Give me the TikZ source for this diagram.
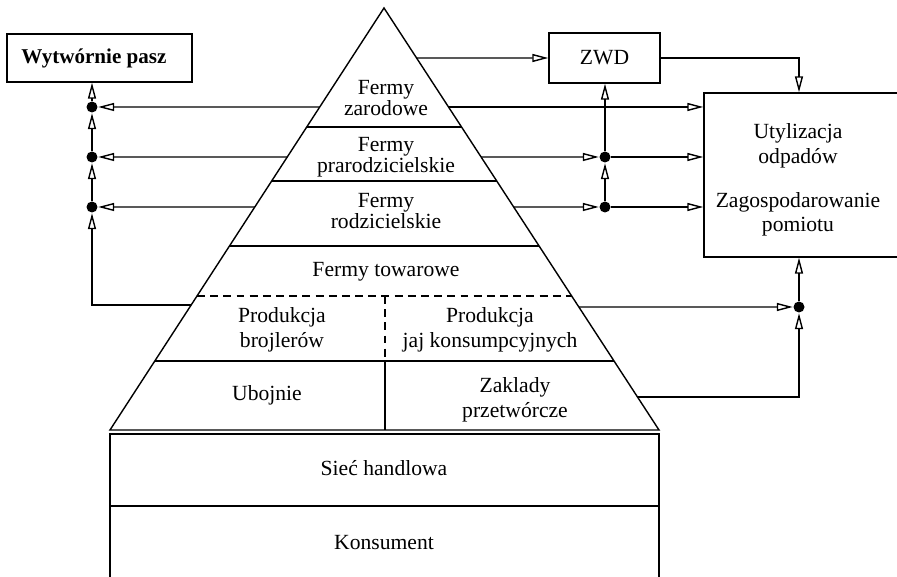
\documentclass[tikz,border=0pt]{standalone}
\usepackage{fontspec}
\setmainfont{Liberation Serif}
\usetikzlibrary{arrows.meta,calc}

\begin{document}
\begin{tikzpicture}[x=0.02cm,y=-0.02cm,line width=0.8pt,
  font=\fontsize{12.3}{14}\selectfont,
  box/.style={draw,rectangle,inner sep=0pt},
  tight/.style={align=center,inner sep=0pt,font=\fontsize{12.3}{11}\selectfont},
  loose/.style={align=center,inner sep=0pt},
  dot/.style={circle,fill,inner sep=0pt,minimum size=0.22cm},
  arr/.style={-{Triangle[open,length=0.32cm,width=0.16cm]}}]
\useasboundingbox (0,0) rectangle (897,577);
\clip (0,0) rectangle (897,577);

\coordinate (top) at (384,8);
\coordinate (bl) at (110,430);
\coordinate (br) at (659,430);
\draw (bl) -- (top) -- (br) -- cycle;
\foreach \y in {127,181,246,361}
  \draw ($(top)!{(\y-8)/422}!(bl)$) -- ($(top)!{(\y-8)/422}!(br)$);
\draw[dash pattern=on 4.5pt off 3pt] ($(top)!{288/422}!(bl)$) -- ($(top)!{288/422}!(br)$);
\draw[dash pattern=on 4.5pt off 3pt] (385,296) -- (385,361);
\draw (385,361) -- (385,430);
\draw (110,590) -- (110,434) -- (659,434) -- (659,590);
\draw (110,506) -- (659,506);

\foreach \n/\y in {1/107,2/157,3/207,b/305}
  \coordinate (pl\n) at ($(top)!{(\y-8)/422}!(bl)$);
\foreach \n/\y in {z/58,1/107,2/157,3/207,4/307,5/397}
  \coordinate (pr\n) at ($(top)!{(\y-8)/422}!(br)$);

\node[tight] (zar) at (386,98) {Fermy\\zarodowe};
\node[tight] (praro) at (386,157) {Fermy\\prarodzicielskie};
\node[tight] (rodz) at (386,211) {Fermy\\rodzicielskie};
\node (tow) at (386,272) {Fermy towarowe};
\node[loose] (broj) at (282,330) {Produkcja\\brojlerów};
\node[loose] (jaj) at (490,330) {Produkcja\\jaj konsumpcyjnych};
\node (uboj) at (267,395) {Ubojnie};
\node[loose] (zakl) at (515,400) {Zaklady\\przetwórcze};
\node (siec) at (384,468) {Sieć handlowa};
\node (kons) at (384,543) {Konsument};

\node[box,minimum width=3.7cm,minimum height=0.96cm] (wyt) at (99.5,58) {};
\node[font=\fontsize{12}{14}\selectfont\bfseries] (wyttxt) at (94,58) {Wytwórnie pasz};
\node[box,minimum width=2.22cm,minimum height=1.0cm] (zwd) at (604.5,58) {ZWD};
\node[box,minimum width=3.88cm,minimum height=3.28cm] (util) at (801,175) {};
\node[loose] (utiltxt) at (798,180) {Utylizacja\\odpadów\\[11pt]Zagospodarowanie\\pomiotu};

\node[dot] (ld1) at (92,107) {};
\node[dot] (ld2) at (92,157) {};
\node[dot] (ld3) at (92,207) {};
\node[dot] (rd2) at (605,157) {};
\node[dot] (rd3) at (605,207) {};
\node[dot] (rd4) at (799,307) {};

\draw[arr] (pl1) -- (ld1);
\draw[arr] (pl2) -- (ld2);
\draw[arr] (pl3) -- (ld3);
\draw[arr] (plb) -| (ld3);
\draw[arr] (ld3) -- (ld2);
\draw[arr] (ld2) -- (ld1);
\draw[arr] (ld1) -- (ld1 |- wyt.south);

\draw[arr] (prz) -- (zwd.west);
\draw[arr] (zwd.east) -| (rd4 |- util.north);
\draw[arr] (pr1) -- (pr1 -| util.west);
\draw[arr] (pr2) -- (rd2);
\draw[arr] (pr3) -- (rd3);
\draw[arr] (rd2) -- (rd2 -| util.west);
\draw[arr] (rd3) -- (rd3 -| util.west);
\draw[arr] (rd3) -- (rd2);
\draw[arr] (rd2) -- (rd2 |- zwd.south);
\draw[arr] (pr4) -- (rd4);
\draw[arr] (pr5) -| (rd4);
\draw[arr] (rd4) -- (rd4 |- util.south);
\end{tikzpicture}
\end{document}
